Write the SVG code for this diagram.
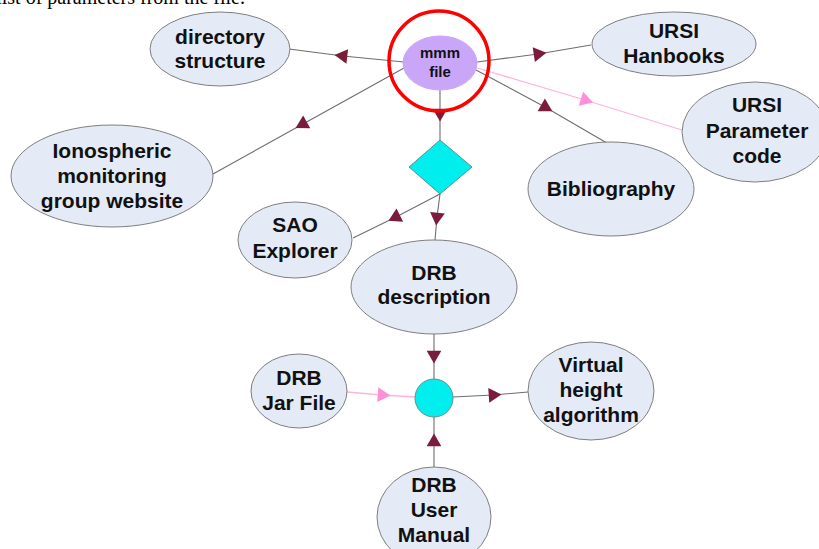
<svg xmlns="http://www.w3.org/2000/svg" width="819" height="549" viewBox="0 0 819 549">
<style>
.bg{fill:#ffffff}
.node ellipse.n{fill:#e4eaf6;stroke:#7f7f7f;stroke-width:1}
.lbl{font-family:"Liberation Sans",Arial,sans-serif;font-weight:bold;font-size:21px;fill:#111;text-anchor:middle}
.small{font-size:15px}
.conn{fill:none;stroke:#6e6e6e;stroke-width:1.1;marker-mid:url(#arr)}
.pink{fill:none;stroke:#ffb3e0;stroke-width:1.3;marker-mid:url(#arrp)}
.cyan{fill:#00eeee;stroke:#5f8f8f;stroke-width:1}
.top{font-family:"Liberation Serif","Times New Roman",serif;font-size:20px;fill:#000}
</style>
<defs>
<marker id="arr" viewBox="-10 -10 20 20" markerUnits="userSpaceOnUse" markerWidth="20" markerHeight="20" refX="0" refY="0" orient="auto">
<path d="M8.5 0 L-4.25 7.36 L-4.25 -7.36 Z" fill="#7b1c3a"/>
</marker>
<marker id="arrp" viewBox="-10 -10 20 20" markerUnits="userSpaceOnUse" markerWidth="20" markerHeight="20" refX="0" refY="0" orient="auto">
<path d="M8.5 0 L-4.25 7.36 L-4.25 -7.36 Z" fill="#ff8fd6"/>
</marker>
</defs>
<rect class="bg" x="0" y="0" width="819" height="549"/>
<text class="top" x="245" y="4" text-anchor="end">list of parameters from the file.</text>

<g id="connectors">
<path class="conn" d="M404 62 L343 56 L289 49"/>
<path class="conn" d="M404 68 L303 124 L213 174"/>
<path class="conn" d="M477 62 L538 54 L591 45"/>
<path class="pink" d="M477 68 L585 100 L682 130"/>
<path class="conn" d="M476 70 L545 107 L612 146"/>
<path class="conn" d="M440 90 L440 113 L440 140"/>
<path class="conn" d="M440 194 L396 217 L353 238"/>
<path class="conn" d="M440 194 L437 217 L435 240"/>
<path class="conn" d="M434 333 L434 355 L434 379"/>
<path class="pink" d="M347 392 L382 395 L415 397"/>
<path class="conn" d="M453 397 L493 395 L528 392"/>
<path class="conn" d="M434 467 L434 442 L434 417"/>
</g>

<g id="mmm-file" class="node">
<ellipse cx="440" cy="63" rx="37" ry="27" fill="#c9a6f7" stroke="#c9a6f7"/>
<text class="lbl small" x="440" y="58">mmm</text>
<text class="lbl small" x="440" y="77">file</text>
<circle cx="439" cy="61" r="50" fill="none" stroke="#ff0000" stroke-width="3.5"/>
</g>

<g id="directory-structure" class="node">
<ellipse class="n" cx="220" cy="49" rx="70" ry="37"/>
<text class="lbl" x="220" y="44">directory</text>
<text class="lbl" x="220" y="68">structure</text>
</g>

<g id="ursi-hanbooks" class="node">
<ellipse class="n" cx="674" cy="44" rx="82" ry="32"/>
<text class="lbl" x="674" y="38">URSI</text>
<text class="lbl" x="674" y="63">Hanbooks</text>
</g>

<g id="ursi-parameter-code" class="node">
<ellipse class="n" cx="755" cy="132" rx="73" ry="50"/>
<text class="lbl" x="757" y="112">URSI</text>
<text class="lbl" x="757" y="138">Parameter</text>
<text class="lbl" x="757" y="163">code</text>
</g>

<g id="ionospheric-website" class="node">
<ellipse class="n" cx="112" cy="176" rx="101" ry="51"/>
<text class="lbl" x="112" y="158">Ionospheric</text>
<text class="lbl" x="112" y="183">monitoring</text>
<text class="lbl" x="112" y="208">group website</text>
</g>

<g id="bibliography" class="node">
<ellipse class="n" cx="611" cy="189" rx="83" ry="47"/>
<text class="lbl" x="611" y="196">Bibliography</text>
</g>

<g id="decision" class="node">
<polygon class="cyan" points="440,140 472,167 440,194 409,167"/>
</g>

<g id="sao-explorer" class="node">
<ellipse class="n" cx="295" cy="240" rx="57" ry="38"/>
<text class="lbl" x="295" y="232">SAO</text>
<text class="lbl" x="295" y="258">Explorer</text>
</g>

<g id="drb-description" class="node">
<ellipse class="n" cx="434" cy="287" rx="83" ry="47"/>
<text class="lbl" x="434" y="280">DRB</text>
<text class="lbl" x="434" y="304">description</text>
</g>

<g id="junction" class="node">
<circle class="cyan" cx="434" cy="398" r="19"/>
</g>

<g id="drb-jar-file" class="node">
<ellipse class="n" cx="299" cy="391" rx="48" ry="37"/>
<text class="lbl" x="299" y="385">DRB</text>
<text class="lbl" x="299" y="410">Jar File</text>
</g>

<g id="virtual-height" class="node">
<ellipse class="n" cx="591" cy="391" rx="63" ry="49"/>
<text class="lbl" x="591" y="372">Virtual</text>
<text class="lbl" x="591" y="397">height</text>
<text class="lbl" x="591" y="422">algorithm</text>
</g>

<g id="drb-user-manual" class="node">
<ellipse class="n" cx="434" cy="517" rx="57" ry="50"/>
<text class="lbl" x="434" y="492">DRB</text>
<text class="lbl" x="434" y="517">User</text>
<text class="lbl" x="434" y="542">Manual</text>
</g>
</svg>
